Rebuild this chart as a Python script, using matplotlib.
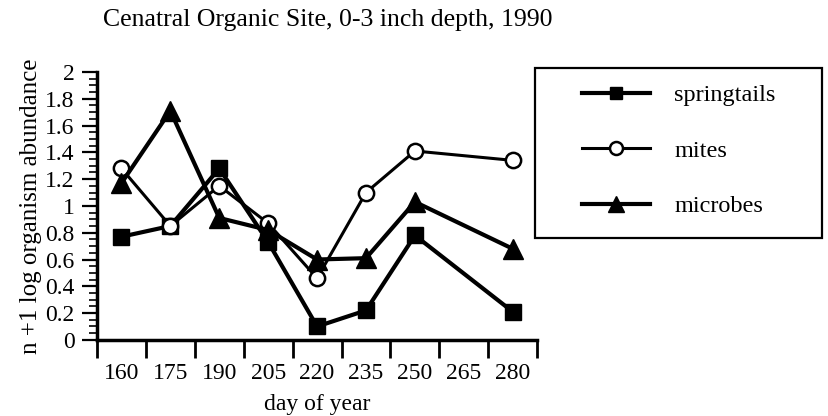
import matplotlib.pyplot as plt
from matplotlib.patches import Rectangle
from matplotlib.ticker import MultipleLocator

plt.rcParams['font.family'] = ['Liberation Serif', 'DejaVu Serif']

days = ['160', '175', '190', '205', '220', '235', '250', '265', '280']
# sampled days (index into the day labels); 265 was not sampled
sample_idx = [0, 1, 2, 3, 4, 5, 6, 8]
springtails = [0.77, 0.85, 1.28, 0.73, 0.10, 0.22, 0.78, 0.21]
mites = [1.28, 0.85, 1.15, 0.87, 0.46, 1.10, 1.41, 1.34]
microbes = [1.17, 1.71, 0.91, 0.82, 0.60, 0.61, 1.03, 0.68]

fig = plt.figure(figsize=(8.29, 4.16), dpi=100)
ax = fig.add_axes([0.117, 0.183, 0.531, 0.644])

ax.plot(sample_idx, springtails, color='black', lw=3, marker='s', ms=11,
        label='springtails', clip_on=False, zorder=3)
ax.plot(sample_idx, mites, color='black', lw=2.2, marker='o', ms=11,
        mfc='white', mew=1.8, label='mites', clip_on=False, zorder=3)
ax.plot(sample_idx, microbes, color='black', lw=3, marker='^', ms=14,
        label='microbes', clip_on=False, zorder=3)

# category axis: ticks sit between the day labels
ax.set_xlim(-0.5, len(days) - 0.5)
ax.set_xticks([i - 0.5 for i in range(len(days) + 1)])
ax.set_xticklabels([])
ax.set_xticks(range(len(days)), minor=True)
ax.set_xticklabels(days, minor=True, fontsize=17)
ax.tick_params(axis='x', which='major', direction='out', length=13, width=2)
ax.tick_params(axis='x', which='minor', length=0, pad=17)

ax.set_ylim(0, 2)
ax.yaxis.set_minor_locator(MultipleLocator(0.05))
ax.set_yticks([0, 0.2, 0.4, 0.6, 0.8, 1, 1.2, 1.4, 1.6, 1.8, 2])
ax.set_yticklabels(['0', '0.2', '0.4', '0.6', '0.8', '1', '1.2', '1.4', '1.6', '1.8', '2'],
                   fontsize=17)
ax.tick_params(axis='y', which='major', direction='out', length=11, width=1.6, pad=5)
ax.tick_params(axis='y', which='minor', direction='out', length=5.5, width=1.2)

for side in ['top', 'right']:
    ax.spines[side].set_visible(False)
for side in ['left', 'bottom']:
    ax.spines[side].set_linewidth(2.5)

ax.set_xlabel('day of year', fontsize=17, labelpad=7)
ax.set_ylabel('n +1 log organism abundance', fontsize=18, labelpad=2)

fig.text(103 / 829, 1 - 26 / 416, 'Cenatral Organic Site, 0-3 inch depth, 1990',
         fontsize=18.5, ha='left', va='baseline')

# legend box
fig.patches.append(Rectangle((535 / 829, 1 - 238 / 416), 287 / 829, 170 / 416,
                             transform=fig.transFigure, fill=False,
                             edgecolor='black', lw=1.6))
fig.legend(loc='upper left', bbox_to_anchor=(582 / 829, 1 - 84 / 416),
           frameon=False, fontsize=17.5, borderpad=0, borderaxespad=0,
           handlelength=2.8, handletextpad=1.0, labelspacing=1.38,
           markerscale=0.85)

fig.savefig('out.png', dpi=100)
